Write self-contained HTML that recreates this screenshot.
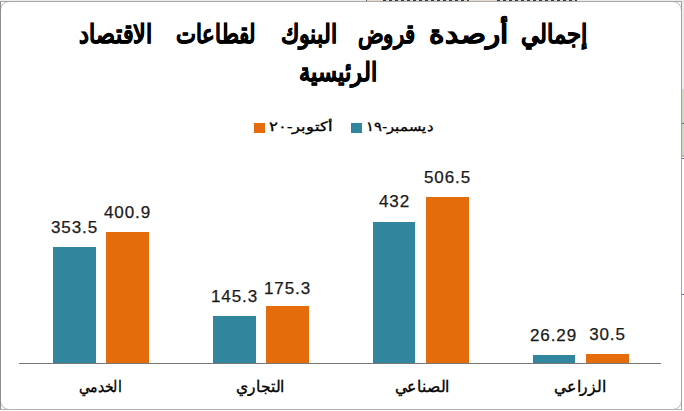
<!DOCTYPE html>
<html lang="ar">
<head>
<meta charset="utf-8">
<title>إجمالي أرصدة قروض البنوك لقطاعات الاقتصاد الرئيسية</title>
<style>
  html, body { margin: 0; padding: 0; }
  body { width: 684px; height: 411px; position: relative; overflow: hidden; background: #ffffff;
         font-family: "Liberation Sans", sans-serif; color: #000; }
  #chart { position: absolute; left: 0; top: 1px; width: 682px; height: 409px; background: #fff; }
  #round { position: absolute; left: 0; top: 1px; width: 682px; height: 409px; box-sizing: border-box;
           border: 1px solid #b8b8b8; border-radius: 9px; }
  #frame { position: absolute; left: 0; top: 1px; width: 682px; height: 409px; box-sizing: border-box;
           border: 1px solid; border-color: #a8a8a8 #a2a2a2 #b2b2b2 #8e8e8e; }
  #row0 { position: absolute; left: 0; top: 0; width: 684px; height: 1px; background: #ededed; }
  .strip { position: absolute; }
  .title { position: absolute; font-weight: bold; font-size: 26px; line-height: 30px; white-space: nowrap;
           direction: rtl; text-align: center; width: 600px; color: #000; transform-origin: 50% 50%; -webkit-text-stroke: 0.6px #000; }
  .title1 { position: absolute; left: 0; width: 684px; height: 30px; font-weight: bold; font-size: 26px; line-height: 30px;
            white-space: nowrap; direction: rtl; color: #000; -webkit-text-stroke: 0.6px #000; }
  .tw { position: absolute; top: 0; transform-origin: 0 50%; }
  .bar { position: absolute; width: 43px; }
  .teal { background: #31859c; }
  .orange { background: #e46c0a; }
  .val { position: absolute; width: 80px; text-align: center; font-size: 17px; line-height: 17px;
         color: #1a1a1a; white-space: nowrap; -webkit-text-stroke: 0.25px #1a1a1a; }
  .cat { position: absolute; width: 140px; text-align: center; font-size: 16px; line-height: 18px;
         direction: rtl; white-space: nowrap; color: #000; transform-origin: 50% 50%; -webkit-text-stroke: 0.35px #000; }
  .leg { position: absolute; width: 100px; text-align: center; font-size: 15px; line-height: 18px; direction: rtl;
         white-space: nowrap; color: #000; transform-origin: 50% 50%; -webkit-text-stroke: 0.35px #000; }
  .sq { position: absolute; width: 11px; height: 10px; }
  #axis { position: absolute; left: 19px; top: 363px; width: 642px; height: 1px; background: #777777; }
</style>
</head>
<body>
<div id="row0"></div>
<div id="chart"></div>
<div id="round"></div>
<div id="frame"></div>

<div class="title1" id="t1" style="top:19px;"><span class="tw" style="left:521.25px; transform:scaleX(0.8736);">إجمالي</span> <span class="tw" style="left:428.87px; transform:scaleX(1.1316);">أرصدة</span> <span class="tw" style="left:357.86px; transform:scaleX(0.8188);">قروض</span> <span class="tw" style="left:281.29px; transform:scaleX(0.8571);">البنوك</span> <span class="tw" style="left:176.37px; transform:scaleX(0.8158);">لقطاعات</span> <span class="tw" style="left:79.29px; transform:scaleX(0.8564);">الاقتصاد</span></div>
<div class="title" id="t2" style="left:37.9px; top:57px; transform:scaleX(0.87);">الرئيسية</div>
<div class="sq orange" style="left:254px; top:123px;"></div>
<div class="leg" id="l1" style="left:251px; top:117.5px; font-size:13px; transform:scaleX(1.26);">أكتوبر-٢٠</div>
<div class="sq teal" style="left:351px; top:123px;"></div>
<div class="leg" id="l2" style="left:350.2px; top:117.8px; font-size:13px; transform:scaleX(1.13);">ديسمبر-١٩</div>
<div class="bar teal" style="left:53px; top:247px; width:43px; height:116px;"></div>
<div class="bar orange" style="left:106px; top:232px; width:43px; height:131px;"></div>
<div class="bar teal" style="left:213px; top:316px; width:43px; height:47px;"></div>
<div class="bar orange" style="left:266px; top:306px; width:43px; height:57px;"></div>
<div class="bar teal" style="left:373px; top:222px; width:42px; height:141px;"></div>
<div class="bar orange" style="left:426px; top:197px; width:43px; height:166px;"></div>
<div class="bar teal" style="left:533px; top:355px; width:42px; height:8px;"></div>
<div class="bar orange" style="left:586px; top:354px; width:43px; height:9px;"></div>
<div id="axis"></div>
<div class="val" id="v1" style="left:34.5px; top:219px; letter-spacing:0.9px;">353.5</div>
<div class="val" id="v2" style="left:87.5px; top:204px; letter-spacing:0.9px;">400.9</div>
<div class="val" id="v3" style="left:194.5px; top:288px; letter-spacing:0.9px;">145.3</div>
<div class="val" id="v4" style="left:247.5px; top:280px; letter-spacing:0.9px;">175.3</div>
<div class="val" id="v5" style="left:354.5px; top:193px; letter-spacing:0.9px;">432</div>
<div class="val" id="v6" style="left:407.5px; top:169px; letter-spacing:0.9px;">506.5</div>
<div class="val" id="v7" style="left:513.5px; top:327px; letter-spacing:0.9px;">26.29</div>
<div class="val" id="v8" style="left:567.5px; top:326px; letter-spacing:0.9px;">30.5</div>
<div class="cat" id="c1" style="left:29.6px; top:378px; transform:scaleX(0.87);">الخدمي</div>
<div class="cat" id="c2" style="left:189.6px; top:378px; transform:scaleX(0.97);">التجاري</div>
<div class="cat" id="c3" style="left:351.5px; top:378px; transform:scaleX(0.976);">الصناعي</div>
<div class="cat" id="c4" style="left:509.6px; top:378px; transform:scaleX(0.98);">الزراعي</div>
<div class="strip" style="left:366px; top:0; width:1px; height:1px; background:#555;"></div>
<div class="strip" style="left:367px; top:0; width:16px; height:1px; background:#e6dccf;"></div>
<div class="strip" style="left:383px; top:0; width:85px; height:1px; background:repeating-linear-gradient(90deg,#3a3a3a 0 3px,#d8d8d8 3px 6px);"></div>
<div class="strip" style="left:468px; top:0; width:1px; height:1px; background:#444;"></div>
<div class="strip" style="left:469px; top:0; width:28px; height:1px; background:#e6dccf;"></div>
<div class="strip" style="left:497px; top:0; width:80px; height:1px; background:repeating-linear-gradient(90deg,#3a3a3a 0 3px,#d8d8d8 3px 6px);"></div>
<div class="strip" style="left:682px; top:1px; width:2px; height:88px; background:#ededf0;"></div>
<div class="strip" style="left:682px; top:89px; width:2px; height:66px; background:#d0d8c4;"></div>
<div class="strip" style="left:682px; top:155px; width:2px; height:2px; background:#b8bcb0;"></div>
<div class="strip" style="left:682px; top:123px; width:2px; height:1px; background:#5a6f5a;"></div>
<div class="strip" style="left:682px; top:158px; width:2px; height:1px; background:#6a6ab0;"></div>
<div class="strip" style="left:682px; top:294px; width:2px; height:1px; background:#6a6ab0;"></div>
</body>
</html>
